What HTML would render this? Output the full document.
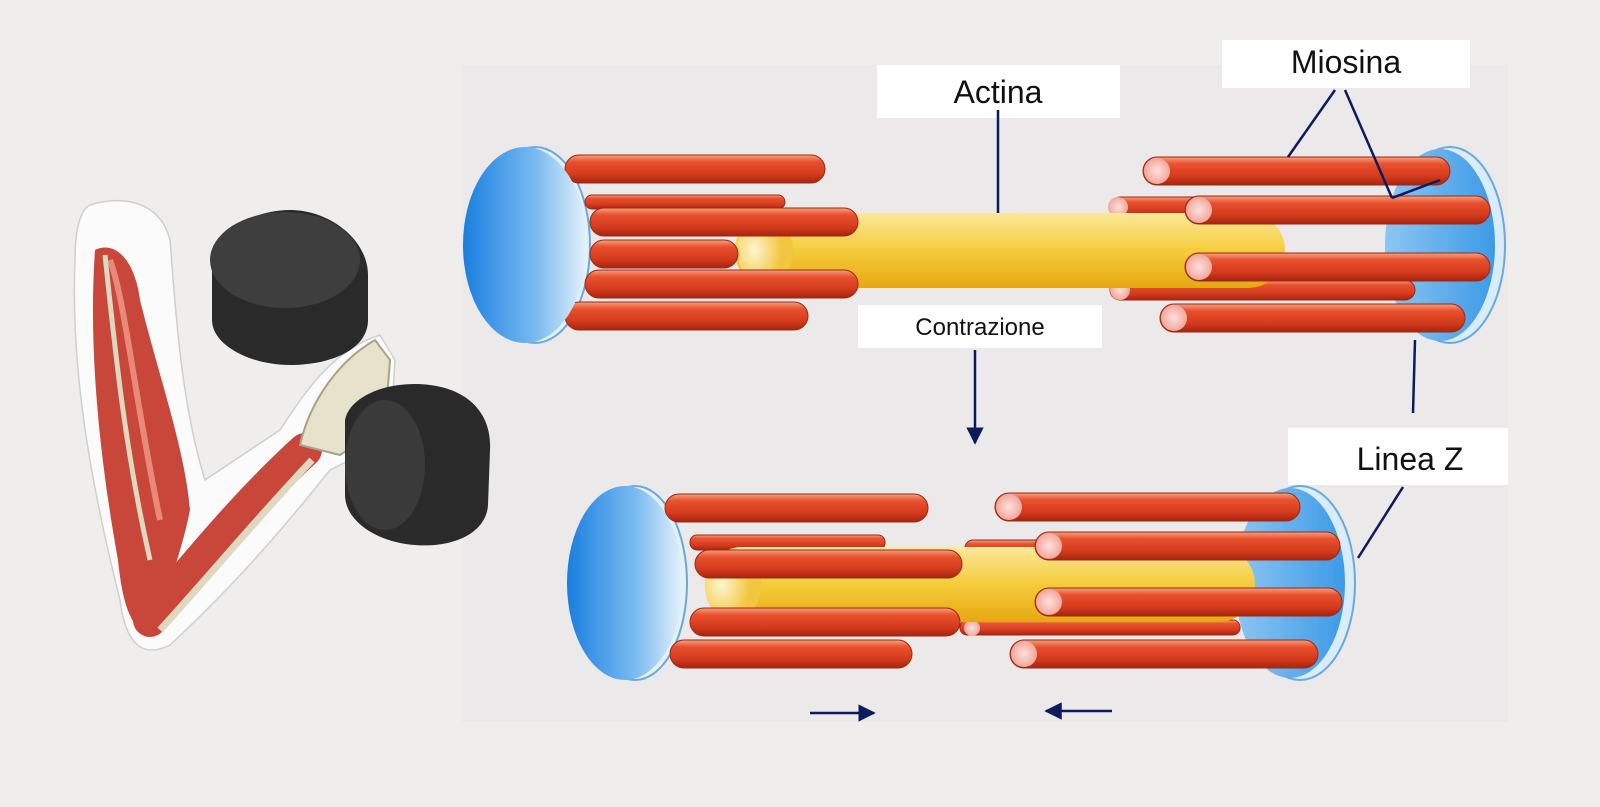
<!DOCTYPE html>
<html><head><meta charset="utf-8"><style>
html,body{margin:0;padding:0;background:#efeeed;}
svg{display:block}
text{font-family:"Liberation Sans",Arial,sans-serif;fill:#111}
</style></head><body>
<svg width="1600" height="807" viewBox="0 0 1600 807" xmlns="http://www.w3.org/2000/svg">
<defs>
<linearGradient id="red" x1="0" y1="0" x2="0" y2="1">
<stop offset="0" stop-color="#f7a080"/><stop offset="0.25" stop-color="#e8502e"/><stop offset="0.7" stop-color="#d23a1c"/><stop offset="1" stop-color="#a82410"/></linearGradient>
<linearGradient id="yel" x1="0" y1="0" x2="0" y2="1">
<stop offset="0" stop-color="#fbe89a"/><stop offset="0.5" stop-color="#f5cc3a"/><stop offset="1" stop-color="#e6a812"/></linearGradient>
<linearGradient id="blu" x1="0" y1="0" x2="1" y2="0">
<stop offset="0" stop-color="#1a7fe0"/><stop offset="0.6" stop-color="#7cbcf0"/><stop offset="1" stop-color="#e6f2fc"/></linearGradient>
<linearGradient id="blu2" x1="0" y1="0" x2="1" y2="0">
<stop offset="0" stop-color="#8cc6f2"/><stop offset="1" stop-color="#3d9ae6"/></linearGradient>
<radialGradient id="pink"><stop offset="0" stop-color="#ffe0dc"/><stop offset="1" stop-color="#f2a89c"/></radialGradient>
<radialGradient id="ycap" cx="0.3" cy="0.5"><stop offset="0" stop-color="#fff6d0"/><stop offset="1" stop-color="#f2c640"/></radialGradient>
<marker id="ah" viewBox="0 0 10 10" refX="9" refY="5" markerWidth="7" markerHeight="7" orient="auto"><path d="M0,0L10,5L0,10z" fill="#0d1a5c"/></marker>
<style>.r{fill:url(#red);stroke:#9a2a14;stroke-width:1}</style>
</defs>

<rect x="462" y="65" width="1046" height="657" fill="#ebe9e9"/>
<rect x="877" y="65" width="243" height="53" fill="#fff"/>
<rect x="1222" y="40" width="248" height="48" fill="#fff"/>
<rect x="858" y="305" width="244" height="43" fill="#fff"/>
<rect x="1288" y="428" width="220" height="57" fill="#fff"/>

<!-- TOP -->
<ellipse cx="1450" cy="245" rx="55" ry="98" fill="#d8ecfb" stroke="#6aa9d8" stroke-width="2"/>
<ellipse cx="1440" cy="245" rx="55" ry="96" fill="url(#blu2)"/>
<ellipse cx="535" cy="245" rx="55" ry="98" fill="#e4f1fb" stroke="#6aa9d8" stroke-width="2"/>
<rect class="r" x="585" y="195" width="200" height="14" rx="7"/>
<rect class="r" x="1110" y="197" width="120" height="20" rx="10"/>
<rect class="r" x="1110" y="280" width="305" height="20" rx="10"/>
<circle cx="1118" cy="207" r="10" fill="url(#pink)"/>
<circle cx="1120" cy="290" r="10" fill="url(#pink)"/>
<rect x="735" y="213" width="550" height="75" rx="37" fill="url(#yel)"/>
<ellipse cx="765" cy="250" rx="28" ry="36" fill="url(#ycap)"/>
<rect class="r" x="565" y="155" width="260" height="28" rx="14"/>
<rect class="r" x="590" y="208" width="268" height="28" rx="14"/>
<rect class="r" x="590" y="240" width="148" height="28" rx="14"/>
<rect class="r" x="585" y="270" width="273" height="28" rx="14"/>
<rect class="r" x="565" y="302" width="243" height="28" rx="14"/>
<rect class="r" x="1143" y="157" width="307" height="28" rx="14"/><circle cx="1157" cy="171" r="13" fill="url(#pink)"/>
<rect class="r" x="1185" y="196" width="305" height="28" rx="14"/><circle cx="1199" cy="210" r="13" fill="url(#pink)"/>
<rect class="r" x="1185" y="253" width="305" height="28" rx="14"/><circle cx="1199" cy="267" r="13" fill="url(#pink)"/>
<rect class="r" x="1160" y="304" width="305" height="28" rx="14"/><circle cx="1174" cy="318" r="13" fill="url(#pink)"/>
<ellipse cx="525" cy="245" rx="62" ry="98" fill="url(#blu)"/>

<!-- BOTTOM -->
<ellipse cx="1300" cy="583" rx="55" ry="97" fill="#d8ecfb" stroke="#6aa9d8" stroke-width="2"/>
<ellipse cx="1290" cy="583" rx="55" ry="95" fill="url(#blu2)"/>
<ellipse cx="635" cy="583" rx="52" ry="97" fill="#e4f1fb" stroke="#6aa9d8" stroke-width="2"/>
<rect class="r" x="690" y="535" width="195" height="15" rx="7"/>
<rect class="r" x="965" y="540" width="80" height="16" rx="8"/>
<rect class="r" x="960" y="620" width="280" height="15" rx="7"/>
<circle cx="972" cy="628" r="8" fill="url(#pink)"/>
<rect x="705" y="547" width="550" height="75" rx="37" fill="url(#yel)"/>
<ellipse cx="733" cy="585" rx="28" ry="36" fill="url(#ycap)"/>
<rect class="r" x="665" y="494" width="263" height="28" rx="14"/>
<rect class="r" x="695" y="550" width="267" height="28" rx="14"/>
<rect class="r" x="690" y="608" width="270" height="28" rx="14"/>
<rect class="r" x="670" y="640" width="242" height="28" rx="14"/>
<rect class="r" x="995" y="493" width="305" height="28" rx="14"/><circle cx="1009" cy="507" r="13" fill="url(#pink)"/>
<rect class="r" x="1035" y="532" width="305" height="28" rx="14"/><circle cx="1049" cy="546" r="13" fill="url(#pink)"/>
<rect class="r" x="1035" y="588" width="307" height="28" rx="14"/><circle cx="1049" cy="602" r="13" fill="url(#pink)"/>
<rect class="r" x="1010" y="640" width="308" height="28" rx="14"/><circle cx="1024" cy="654" r="13" fill="url(#pink)"/>
<ellipse cx="625" cy="583" rx="58" ry="97" fill="url(#blu)"/>

<g stroke="#0d1a5c" stroke-width="2.5" fill="none">
<line x1="998" y1="110" x2="998" y2="213"/>
<line x1="1335" y1="90" x2="1288" y2="157"/>
<line x1="1345" y1="90" x2="1392" y2="198"/>
<line x1="1392" y1="198" x2="1440" y2="180"/>
<line x1="1415" y1="340" x2="1413" y2="413"/>
<line x1="1403" y1="487" x2="1358" y2="558"/>
<line x1="975" y1="350" x2="975" y2="443" marker-end="url(#ah)"/>
<line x1="810" y1="713" x2="874" y2="713" marker-end="url(#ah)"/>
<line x1="1112" y1="711" x2="1046" y2="711" marker-end="url(#ah)"/>
</g>
<text x="998" y="103" font-size="32" text-anchor="middle">Actina</text>
<text x="1346" y="73" font-size="32" text-anchor="middle">Miosina</text>
<text x="980" y="335" font-size="24" text-anchor="middle">Contrazione</text>
<text x="1410" y="470" font-size="32" text-anchor="middle">Linea Z</text>

<!-- ARM -->
<path d="M90,205 C120,195 160,200 170,240 C175,300 180,400 205,480 L280,430 C300,400 330,350 380,335 L395,360 L390,440 L330,470 C290,520 240,580 170,645 C140,660 125,640 120,600 C95,500 70,380 75,260 C75,230 80,210 90,205 Z" fill="#fbfbfb" stroke="#cfcfcf" stroke-width="1.5"/>
<path d="M95,250 C115,240 135,260 140,300 C160,380 185,450 190,510 C180,560 160,610 150,635 C130,630 122,600 118,560 C100,460 88,350 95,250 Z" fill="#c8463a"/>
<path d="M110,260 C125,300 135,400 160,520" stroke="#e88a7a" stroke-width="6" fill="none"/>
<path d="M150,620 C200,560 250,500 305,450" stroke="#c8463a" stroke-width="34" fill="none" stroke-linecap="round"/>
<path d="M160,630 C210,575 260,515 312,460" stroke="#ddd8bf" stroke-width="7" fill="none"/>
<path d="M105,255 C115,350 125,450 150,560" stroke="#ddd8bf" stroke-width="5" fill="none"/>
<path d="M300,445 C310,400 340,360 375,340 L390,360 L385,425 L340,455 Z" fill="#e6e2cc" stroke="#a8a28a" stroke-width="2"/>
<path d="M212,270 C210,235 250,210 290,210 C330,210 368,240 368,275 L368,320 C368,350 330,365 290,365 C250,365 212,345 212,320 Z" fill="#2a2a2a"/>
<ellipse cx="285" cy="260" rx="75" ry="48" fill="#3e3e3e"/>
<rect x="380" y="415" width="25" height="20" fill="#8a7a40"/>
<path d="M345,420 C350,395 390,380 430,385 C470,390 492,415 490,450 L488,505 C486,535 450,548 415,545 C375,542 345,520 345,495 Z" fill="#2a2a2a"/>
<ellipse cx="385" cy="465" rx="40" ry="65" fill="#3a3a3a"/>
</svg>
</body></html>
